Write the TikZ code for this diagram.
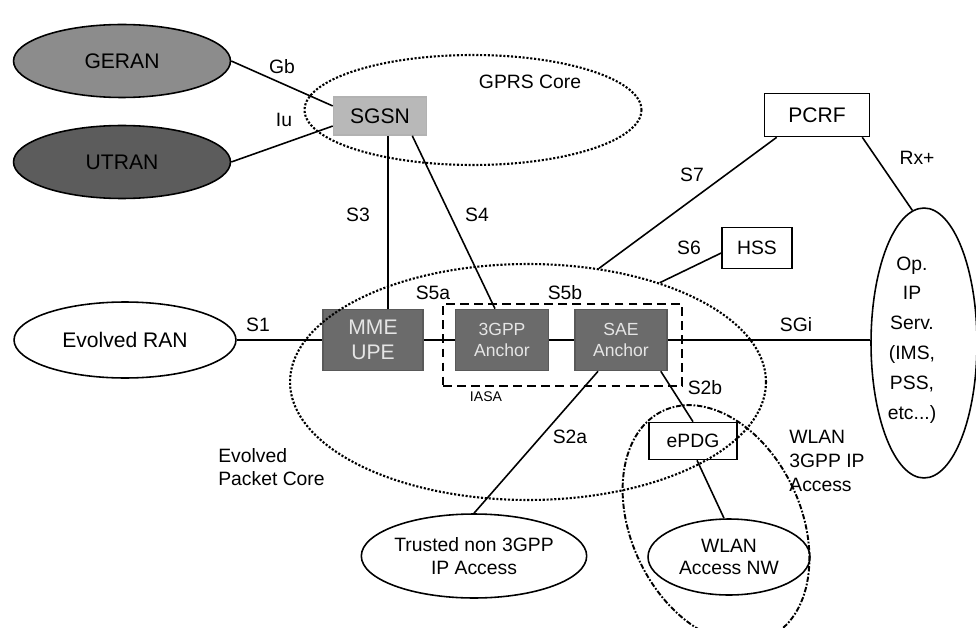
\documentclass[tikz,border=0pt]{standalone}
\usepackage{fontspec}
\setmainfont{Liberation Sans}
\usetikzlibrary{positioning,shapes.geometric}
\definecolor{geranfill}{gray}{0.55}
\definecolor{utranfill}{gray}{0.36}
\definecolor{sgsnfill}{gray}{0.72}
\definecolor{corefill}{gray}{0.42}
\definecolor{coretext}{gray}{0.9}

\begin{document}
\begin{tikzpicture}[x=0.02cm,y=-0.02cm,
    font=\fontsize{11}{13}\selectfont,
    link/.style={line width=0.9pt},
    oval/.style={ellipse,draw,line width=0.9pt,inner sep=0pt,align=center},
    dotcloud/.style={ellipse,draw,densely dotted,line width=1.2pt,inner sep=0pt},
    box/.style={rectangle,draw,line width=0.9pt,inner sep=0pt,align=center},
    corebox/.style={box,draw=gray!70!black,fill=corefill,text=coretext,minimum height=1.22cm},
    lbl/.style={inner sep=0pt}]
  \newcommand{\bigtxt}{\fontsize{12}{14}\selectfont}
  \useasboundingbox (0,0) rectangle (976,628);
  \clip (0,0) rectangle (976,628);

  % radio access networks
  \node[oval,fill=geranfill,minimum width=4.34cm,minimum height=1.46cm,font=\bigtxt] (geran) at (122,61) {GERAN};
  \node[oval,fill=utranfill,minimum width=4.34cm,minimum height=1.46cm,font=\bigtxt] (utran) at (122,162) {UTRAN};
  \node[oval,minimum width=4.44cm,minimum height=1.52cm,font=\bigtxt] (eran) at (125,340) {Evolved RAN};

  % core entities
  \node[box,draw=gray!60,fill=sgsnfill,minimum width=1.86cm,minimum height=0.76cm,font=\bigtxt] (sgsn) at (380,116) {SGSN};
  \node[corebox,minimum width=2cm,font=\bigtxt] (mme) at (373,340) {MME\\UPE};
  \node[corebox,minimum width=1.86cm,font=\fontsize{10}{12}\selectfont] (anchor3gpp) at (502,340) {3GPP\\Anchor};
  \node[corebox,minimum width=1.84cm,font=\fontsize{10}{12}\selectfont] (saeanchor) at (621,340) {SAE\\Anchor};
  \node[box,dash pattern=on 5pt off 3pt,line width=1.3pt,minimum width=4.78cm,minimum height=1.64cm] (iasa) at (562.5,345) {};
  \node[box,fill=white,minimum width=2.1cm,minimum height=0.86cm,font=\bigtxt] (pcrf) at (817,115) {PCRF};
  \node[box,fill=white,minimum width=1.4cm,minimum height=0.82cm] (hss) at (757,248) {HSS};
  \node[box,minimum width=1.76cm,minimum height=0.74cm] (epdg) at (693,441) {ePDG};

  % outer networks
  \node[oval,minimum width=2.12cm,minimum height=5.4cm] (opip) at (924,343) {};
  \node[lbl,align=center,font=\fontsize{11}{17}\selectfont] (opiptext) at (912,340) {Op.\\IP\\Serv.\\(IMS,\\PSS,\\etc...)};
  \node[oval,minimum width=4.24cm,minimum height=1.68cm] (trusted) at (474,556) {Trusted non 3GPP\\IP Access};
  \node[oval,minimum width=3.24cm,minimum height=1.52cm] (wlannw) at (729,557) {WLAN\\Access NW};

  % dotted domains
  \node[dotcloud,minimum width=6.74cm,minimum height=2.2cm] (gprs) at (473,110) {};
  \node[dotcloud,minimum width=9.52cm,minimum height=4.72cm] (epc) at (528,382) {};
  \node[ellipse,draw,dash pattern=on 3pt off 1pt on 1pt off 1pt,line width=1.1pt,inner sep=0pt,
        minimum width=3.4cm,minimum height=5cm,rotate=25] (wlanacc) at (716,524) {};

  % interfaces
  \draw[link] (geran.east) -- (sgsn.168);
  \draw[link] (utran.east) -- (sgsn.192);
  \draw[link] ([xshift=0.16cm]sgsn.south) -- ([xshift=0.16cm]sgsn.south |- mme.north);
  \draw[link] ([xshift=-0.3cm]sgsn.south east) -- ([xshift=-0.14cm]anchor3gpp.north);
  \draw[link] (eran) -- (mme);
  \draw[link] (mme) -- (anchor3gpp);
  \draw[link] (anchor3gpp) -- (saeanchor);
  \draw[link] (saeanchor.east) -- (saeanchor.east -| opip.west);
  \draw[link] ([xshift=0.26cm]pcrf.south west) -- (epc.58);
  \draw[link] ([xshift=-0.16cm]pcrf.south east) -- (opip.95);
  \draw[link] ([yshift=-0.1cm]hss.west) -- (epc.37);
  \draw[link] ([xshift=-0.46cm]saeanchor.south) -- (trusted.north);
  \draw[link] ([xshift=-0.14cm]saeanchor.south east) -- (epdg.north);
  \draw[link] ([xshift=0.08cm]epdg.south) -- ([xshift=-0.1cm]wlannw.north);

  \foreach \nm/\x/\y/\txt in {gb/282/67/Gb, iu/284/120/Iu, s3/358/215/S3, s4/477/215/S4,
      s7/692/175/S7, rx/917/158/Rx+, s6/689/248/S6, s5a/433/293/S5a, s5b/565/293/S5b,
      s1/258/325/S1, sgi/796/325/SGi, s2a/570/437/S2a, s2b/705/388/S2b}
    \node[lbl] (l\nm) at (\x,\y) {\txt};

  \node[lbl] (lgprs) at (530,82) {GPRS Core};
  \node[lbl,font=\fontsize{8}{9}\selectfont] (liasa) at (486,397) {IASA};
  \node[lbl,anchor=west,align=left] (lepc) at (218,467) {Evolved\\Packet Core};
  \node[lbl,anchor=west,align=left,font=\fontsize{11}{13.5}\selectfont] (lwlan) at (789,461) {WLAN\\3GPP IP\\Access};
\end{tikzpicture}
\end{document}
